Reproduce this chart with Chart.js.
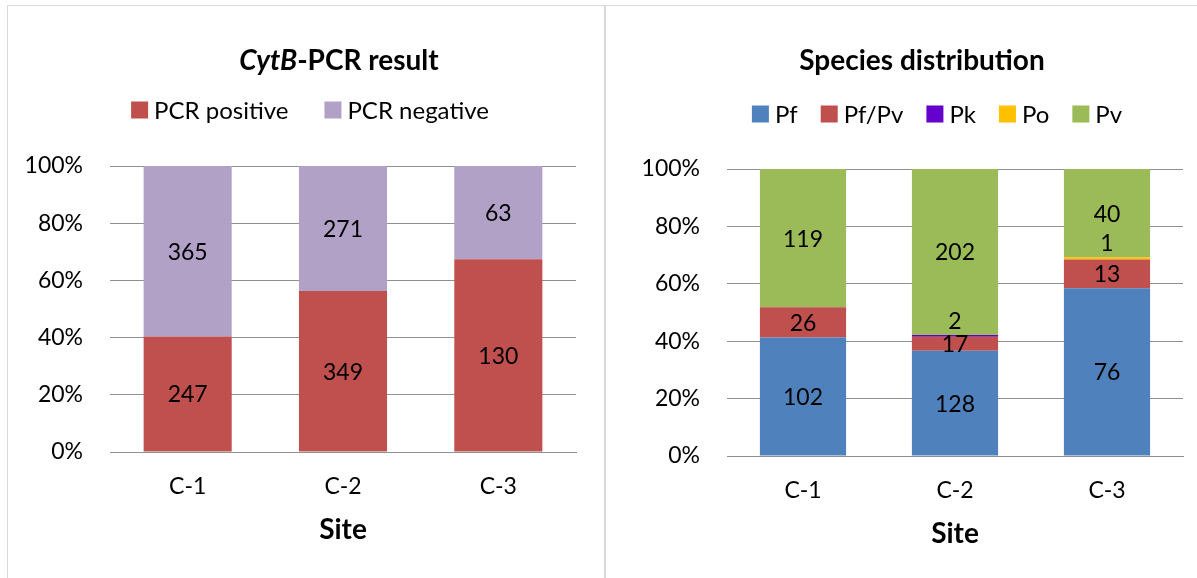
<!DOCTYPE html>
<html>
<head>
<meta charset="utf-8">
<script src="https://cdn.jsdelivr.net/npm/chart.js@4.4.0/dist/chart.umd.min.js"></script>
<style>
  html, body { margin: 0; padding: 0; background: #fff; overflow: hidden; }
  body { width: 1197px; height: 578px; position: relative; }
  .panel { position: absolute; top: 5px; height: 620px; border: 1px solid #d9d9d9; box-sizing: border-box; }
  #leftPanel { left: 7px; width: 598px; }
  #rightPanel { left: 605px; width: 640px; }
  .wrap { position: absolute; top: 0; height: 578px; }
  #leftWrap { left: 0; width: 605px; }
  #rightWrap { left: 605px; width: 592px; }
</style>
</head>
<body>
<div class="panel" id="leftPanel"></div>
<div class="panel" id="rightPanel"></div>
<div class="wrap" id="leftWrap"><canvas id="pcrChart" width="605" height="578"></canvas></div>
<div class="wrap" id="rightWrap"><canvas id="speciesChart" width="592" height="578"></canvas></div>
<script>
// data
const sites = ['C-1', 'C-2', 'C-3'];
const yTicks = [0, 20, 40, 60, 80, 100];

const pcrPositive = [247, 349, 130];
const pcrNegative = [365, 271, 63];

const pf = [102, 128, 76];
const pfPv = [26, 17, 13];
const pk = [0, 2, 0];
const po = [0, 0, 1];
const pv = [119, 202, 40];

const FONT = 'Lato, "Open Sans", sans-serif';
const TEXT_SIZE = 23;
Chart.defaults.font.family = FONT;
Chart.defaults.color = '#000';

// turn counts into share of the site total (stacked 100%)
function toPercent(seriesList) {
  const totals = sites.map((s, j) => seriesList.reduce((a, ser) => a + ser[j], 0));
  return seriesList.map(ser => ser.map((v, j) => v / totals[j] * 100));
}

// title, legend, axis title and value labels
const decorPlugin = {
  id: 'decor',
  afterDatasetsDraw(chart) {
    const ctx = chart.ctx;
    ctx.save();
    ctx.font = `${TEXT_SIZE}px ${FONT}`;
    ctx.fillStyle = '#000';
    ctx.textAlign = 'center';
    ctx.textBaseline = 'middle';
    chart.data.datasets.forEach((ds, i) => {
      const meta = chart.getDatasetMeta(i);
      meta.data.forEach((bar, j) => {
        const count = ds.counts[j];
        if (!count) return;
        const p = bar.getProps(['x', 'y', 'base'], true);
        const top = Math.min(p.y, p.base);
        const bottom = Math.max(p.y, p.base);
        let y = (top + bottom) / 2;
        if (bottom - top < 8) y = top - 15;  // tiny segment: put label above
        ctx.fillText(String(count), p.x, y + 1);
      });
    });
    ctx.restore();
  },
  afterDraw(chart, args, opts) {
    const ctx = chart.ctx;
    const area = chart.chartArea;
    ctx.save();
    ctx.fillStyle = '#000';
    ctx.textBaseline = 'middle';

    // title with italic parts
    let w = 0;
    opts.title.forEach(part => {
      ctx.font = `${part.italic ? 'italic ' : ''}bold 28px ${FONT}`;
      w += ctx.measureText(part.text).width;
    });
    let x = opts.titleX - w / 2;
    ctx.textAlign = 'left';
    opts.title.forEach(part => {
      ctx.font = `${part.italic ? 'italic ' : ''}bold 28px ${FONT}`;
      ctx.fillText(part.text, x, opts.titleY);
      x += ctx.measureText(part.text).width;
    });

    // legend
    ctx.font = `${TEXT_SIZE + 1}px ${FONT}`;
    const box = 17, boxGap = 6;
    const items = chart.data.datasets.map(ds => ({ label: ds.label, color: ds.backgroundColor }));
    const widths = items.map(it => box + boxGap + ctx.measureText(it.label).width);
    const total = widths.reduce((a, b) => a + b, 0) + opts.legendGap * (items.length - 1);
    x = opts.legendX - total / 2;
    items.forEach((it, k) => {
      ctx.fillStyle = it.color;
      ctx.fillRect(x, opts.legendY - box / 2, box, box);
      ctx.fillStyle = '#000';
      ctx.fillText(it.label, x + box + boxGap, opts.legendY + 1);
      x += widths[k] + opts.legendGap;
    });

    // x axis title
    ctx.font = `bold 28px ${FONT}`;
    ctx.textAlign = 'center';
    ctx.fillText('Site', (area.left + area.right) / 2, area.bottom + 78);
    ctx.restore();
  }
};

function makeChart(id, datasets, layout, decor) {
  return new Chart(document.getElementById(id), {
    type: 'bar',
    data: { labels: sites, datasets: datasets },
    options: {
      responsive: false,
      animation: false,
      layout: { padding: { left: 0, right: layout.right, top: layout.top, bottom: 0 } },
      plugins: {
        legend: { display: false },
        title: { display: false },
        tooltip: { enabled: false },
        decor: decor
      },
      datasets: { bar: { categoryPercentage: 1, barPercentage: 0.567, borderWidth: 0 } },
      scales: {
        x: {
          stacked: true,
          grid: { display: false, drawTicks: false },
          border: { display: true, color: '#909090', width: 1 },
          ticks: { font: { size: TEXT_SIZE }, padding: 21 },
          afterFit: s => { s.height = layout.xHeight; }
        },
        y: {
          stacked: true,
          min: 0,
          max: 100,
          afterBuildTicks: s => { s.ticks = yTicks.map(v => ({ value: v })); },
          grid: { color: '#909090', lineWidth: 1, drawTicks: false },
          border: { display: false },
          ticks: { font: { size: TEXT_SIZE }, padding: 27, callback: v => v + '%' },
          afterFit: s => { s.width = layout.yWidth; }
        }
      }
    },
    plugins: [decorPlugin]
  });
}

const pcrPct = toPercent([pcrPositive, pcrNegative]);
makeChart('pcrChart', [
  { label: 'PCR positive', data: pcrPct[0], counts: pcrPositive, backgroundColor: '#C0504D' },
  { label: 'PCR negative', data: pcrPct[1], counts: pcrNegative, backgroundColor: '#B2A1C7' }
], { right: 29, top: 166, xHeight: 126, yWidth: 110 }, {
  title: [{ text: 'CytB', italic: true }, { text: '-PCR result' }],
  titleX: 339, titleY: 61, legendX: 310, legendY: 110, legendGap: 36
});

const spPct = toPercent([pf, pfPv, pk, po, pv]);
makeChart('speciesChart', [
  { label: 'Pf', data: spPct[0], counts: pf, backgroundColor: '#4F81BD' },
  { label: 'Pf/Pv', data: spPct[1], counts: pfPv, backgroundColor: '#C0504D' },
  { label: 'Pk', data: spPct[2], counts: pk, backgroundColor: '#6600CC' },
  { label: 'Po', data: spPct[3], counts: po, backgroundColor: '#FFC000' },
  { label: 'Pv', data: spPct[4], counts: pv, backgroundColor: '#9BBB59' }
], { right: 14, top: 169, xHeight: 122, yWidth: 122 }, {
  title: [{ text: 'Species distribution' }],
  titleX: 317, titleY: 61, legendX: 332, legendY: 114, legendGap: 23
});
</script>
</body>
</html>
